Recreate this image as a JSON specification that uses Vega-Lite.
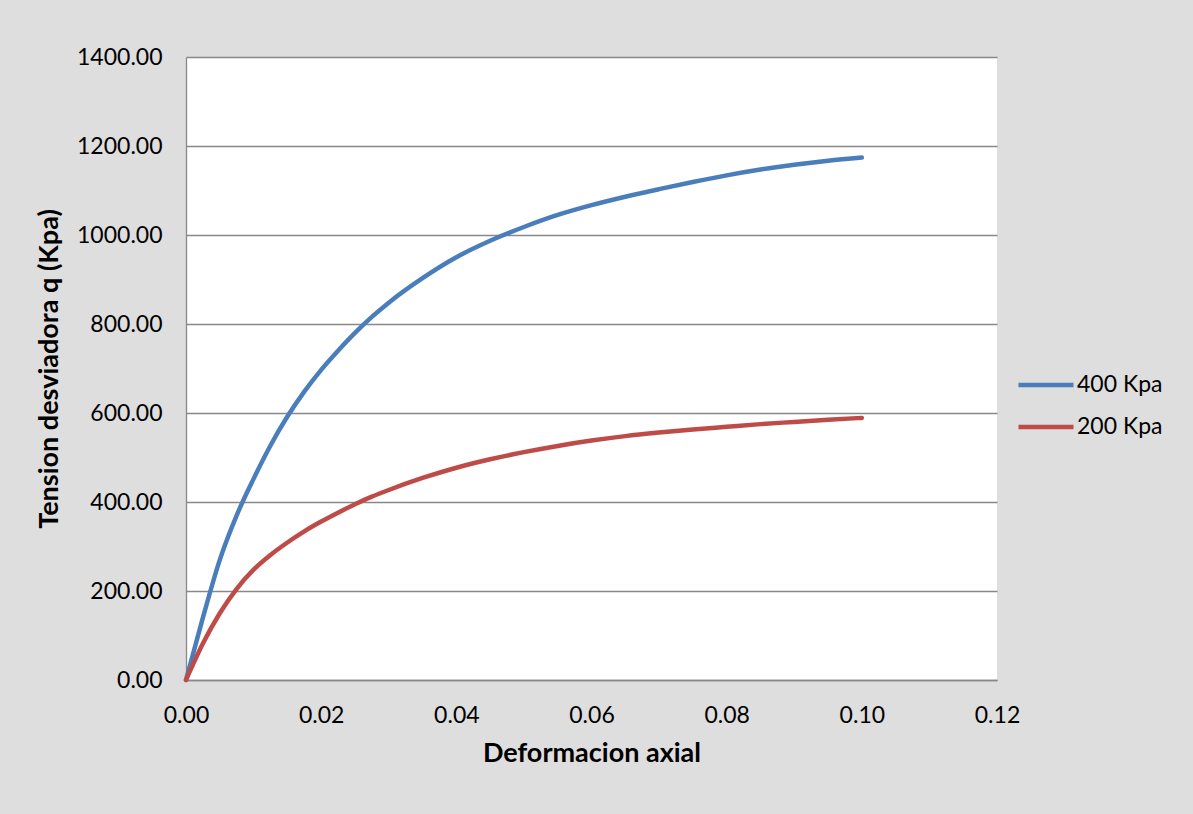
{
  "$schema": "https://vega.github.io/schema/vega-lite/v6.json",
  "width": 811,
  "height": 623,
  "autosize": {"type": "none"},
  "padding": {"left": 186, "top": 57, "right": 196, "bottom": 134},
  "background": "#dedede",
  "config": {
    "view": {"fill": "#ffffff", "stroke": null},
    "font": "Lato"
  },
  "datasets": {
    "curves": [
      {"serie": "400 Kpa", "def": 0, "q": 0},
      {"serie": "400 Kpa", "def": 0.0025, "q": 140},
      {"serie": "400 Kpa", "def": 0.005, "q": 270},
      {"serie": "400 Kpa", "def": 0.0075, "q": 370},
      {"serie": "400 Kpa", "def": 0.010, "q": 452},
      {"serie": "400 Kpa", "def": 0.0125, "q": 527},
      {"serie": "400 Kpa", "def": 0.015, "q": 592},
      {"serie": "400 Kpa", "def": 0.0175, "q": 648},
      {"serie": "400 Kpa", "def": 0.020, "q": 697},
      {"serie": "400 Kpa", "def": 0.0225, "q": 740},
      {"serie": "400 Kpa", "def": 0.025, "q": 780},
      {"serie": "400 Kpa", "def": 0.0275, "q": 816},
      {"serie": "400 Kpa", "def": 0.030, "q": 848},
      {"serie": "400 Kpa", "def": 0.035, "q": 903},
      {"serie": "400 Kpa", "def": 0.040, "q": 950},
      {"serie": "400 Kpa", "def": 0.045, "q": 987},
      {"serie": "400 Kpa", "def": 0.050, "q": 1018},
      {"serie": "400 Kpa", "def": 0.055, "q": 1045},
      {"serie": "400 Kpa", "def": 0.060, "q": 1067},
      {"serie": "400 Kpa", "def": 0.065, "q": 1086},
      {"serie": "400 Kpa", "def": 0.070, "q": 1103},
      {"serie": "400 Kpa", "def": 0.075, "q": 1119},
      {"serie": "400 Kpa", "def": 0.080, "q": 1134},
      {"serie": "400 Kpa", "def": 0.085, "q": 1147},
      {"serie": "400 Kpa", "def": 0.090, "q": 1158},
      {"serie": "400 Kpa", "def": 0.095, "q": 1167},
      {"serie": "400 Kpa", "def": 0.100, "q": 1174},
      {"serie": "200 Kpa", "def": 0, "q": 0},
      {"serie": "200 Kpa", "def": 0.0025, "q": 82},
      {"serie": "200 Kpa", "def": 0.005, "q": 150},
      {"serie": "200 Kpa", "def": 0.0075, "q": 205},
      {"serie": "200 Kpa", "def": 0.010, "q": 248},
      {"serie": "200 Kpa", "def": 0.0125, "q": 281},
      {"serie": "200 Kpa", "def": 0.015, "q": 309},
      {"serie": "200 Kpa", "def": 0.0175, "q": 334},
      {"serie": "200 Kpa", "def": 0.020, "q": 356},
      {"serie": "200 Kpa", "def": 0.0225, "q": 376},
      {"serie": "200 Kpa", "def": 0.025, "q": 395},
      {"serie": "200 Kpa", "def": 0.0275, "q": 412},
      {"serie": "200 Kpa", "def": 0.030, "q": 427},
      {"serie": "200 Kpa", "def": 0.035, "q": 454},
      {"serie": "200 Kpa", "def": 0.040, "q": 477},
      {"serie": "200 Kpa", "def": 0.045, "q": 496},
      {"serie": "200 Kpa", "def": 0.050, "q": 512},
      {"serie": "200 Kpa", "def": 0.055, "q": 526},
      {"serie": "200 Kpa", "def": 0.060, "q": 538},
      {"serie": "200 Kpa", "def": 0.065, "q": 548},
      {"serie": "200 Kpa", "def": 0.070, "q": 556},
      {"serie": "200 Kpa", "def": 0.075, "q": 563},
      {"serie": "200 Kpa", "def": 0.080, "q": 569},
      {"serie": "200 Kpa", "def": 0.085, "q": 575},
      {"serie": "200 Kpa", "def": 0.090, "q": 580},
      {"serie": "200 Kpa", "def": 0.095, "q": 585},
      {"serie": "200 Kpa", "def": 0.100, "q": 589}
    ]
  },
  "data": {"name": "curves"},
  "mark": {"type": "line", "strokeWidth": 4.5, "strokeCap": "round", "interpolate": "monotone"},
  "encoding": {
    "x": {
      "field": "def",
      "type": "quantitative",
      "scale": {"domain": [0, 0.12], "nice": false},
      "axis": {
        "title": "Deformacion axial",
        "values": [0, 0.02, 0.04, 0.06, 0.08, 0.1, 0.12],
        "format": ".2f",
        "grid": false,
        "ticks": false,
        "domainColor": "#888888",
        "domainWidth": 1.3,
        "labelFontSize": 23,
        "labelColor": "#000000",
        "labelPadding": 24,
        "labelFlush": false,
        "titleFontSize": 27,
        "titleFontWeight": "bold",
        "titleColor": "#000000",
        "titlePadding": 13
      }
    },
    "y": {
      "field": "q",
      "type": "quantitative",
      "scale": {"domain": [0, 1400], "nice": false},
      "axis": {
        "title": "Tension desviadora q (Kpa)",
        "values": [0, 200, 400, 600, 800, 1000, 1200, 1400],
        "format": ".2f",
        "grid": true,
        "gridColor": "#888888",
        "gridWidth": 1.3,
        "ticks": false,
        "domainColor": "#888888",
        "domainWidth": 1.3,
        "labelFontSize": 23,
        "labelColor": "#000000",
        "labelPadding": 24,
        "labelFlush": false,
        "titleFontSize": 27,
        "titleFontWeight": "bold",
        "titleColor": "#000000",
        "titlePadding": 13
      }
    },
    "color": {
      "field": "serie",
      "type": "nominal",
      "scale": {"domain": ["400 Kpa", "200 Kpa"], "range": ["#4a7ebb", "#be4b48"]},
      "legend": {
        "title": null,
        "orient": "none",
        "legendX": 830,
        "legendY": 298,
        "padding": 0,
        "symbolType": "stroke",
        "symbolSize": 3025,
        "symbolStrokeWidth": 4.5,
        "labelFontSize": 23,
        "labelColor": "#000000",
        "labelOffset": 1,
        "rowPadding": -7
      }
    }
  }
}
